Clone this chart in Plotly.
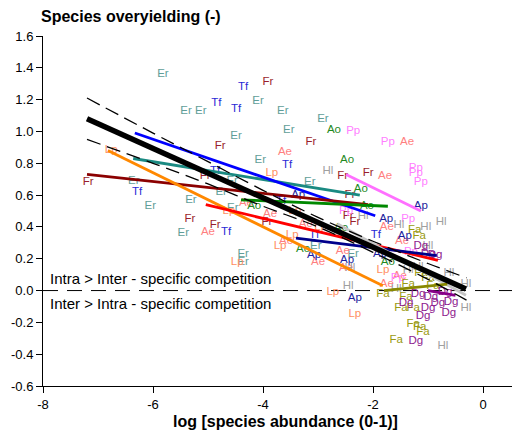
import plotly.graph_objects as go

# ---- label positions (x = log abundance, y = overyielding)
er_x = [-5.82, -5.40, -5.13, -4.09, -3.64, -3.53, -2.91, -4.49, -4.05, -6.35, -6.05, -5.31, -5.45, -4.76, -4.56, -4.36, -4.36, -3.15, -3.04, -2.36, -4.55]
er_y = [1.36, 1.13, 1.13, 1.19, 1.13, 1.01, 1.08, 0.97, 0.82, 0.69, 0.53, 0.57, 0.36, 0.62, 0.69, 0.23, 0.18, 0.68, 0.28, 0.23, 0.52]
tf_x = [-4.36, -4.85, -4.49, -4.87, -6.29, -3.56, -4.67, -3.67, -3.07, -1.95]
tf_y = [1.28, 1.18, 1.14, 0.75, 0.62, 0.79, 0.37, 0.56, 0.35, 0.35]
fr_x = [-7.18, -4.78, -5.05, -3.91, -3.13, -2.55, -2.09, -2.42, -5.33, -4.87, -3.93, -2.45, -2.33]
fr_y = [0.68, 0.91, 0.72, 1.31, 0.93, 0.72, 0.74, 0.60, 0.45, 0.41, 0.43, 0.47, 0.43]
lp_x = [-6.76, -3.84, -4.62, -4.47, -3.42, -3.69, -3.47, -2.95, -2.73, -2.33, -1.82]
lp_y = [0.88, 0.74, 0.50, 0.18, 0.50, 0.28, 0.35, 0.40, -0.01, -0.15, 0.13]
ae_x = [-1.38, -3.60, -1.78, -5.00, -4.31, -3.87, -3.22, -3.58, -3.00, -2.55, -2.49, -1.75, -1.47, -1.75, -1.51]
ae_y = [0.93, 0.87, 0.72, 0.37, 0.55, 0.48, 0.42, 0.31, 0.18, 0.25, 0.14, 0.40, 0.31, 0.04, 0.09]
ao_x = [-2.71, -2.47, -2.22, -2.11, -4.16, -3.27, -1.73, -2.58]
ao_y = [1.01, 0.82, 0.64, 0.53, 0.53, 0.26, 0.18, 0.39]
pp_x = [-2.36, -1.73, -1.22, -1.22, -1.13, -2.49, -1.36, -1.31, -1.55]
pp_y = [1.00, 0.93, 0.77, 0.74, 0.68, 0.50, 0.45, 0.24, 0.08]
ap_x = [-3.36, -1.76, -1.13, -1.42, -3.07, -2.47, -1.87, -2.33]
ap_y = [0.60, 0.45, 0.53, 0.34, 0.22, 0.19, 0.23, -0.05]
hl_x = [-2.82, -2.18, -0.76, -1.04, -1.53, -2.42, -2.45, -1.00, -0.62, -0.31, -0.31, -0.73, -1.36, -1.18, -1.58]
hl_y = [0.75, 0.47, 0.43, 0.40, 0.41, 0.14, 0.03, 0.28, 0.11, 0.04, -0.11, -0.35, 0.13, 0.15, 0.01]
fa_x = [-1.24, -1.16, -1.82, -1.40, -1.49, -1.27, -1.27, -1.15, -1.09, -1.58, -1.00, -1.13, -0.91, -1.36]
fa_y = [0.38, 0.34, -0.02, -0.04, -0.11, -0.11, -0.21, -0.23, -0.26, -0.31, 0.08, 0.11, 0.03, 0.04]
dg_x = [-1.13, -0.87, -1.00, -1.40, -1.09, -0.58, -0.62, -1.22, -0.95, -0.82, -0.69, -1.18, -1.00]
dg_y = [0.28, 0.22, 0.23, -0.08, -0.16, -0.07, -0.14, -0.32, -0.04, -0.08, -0.01, -0.02, -0.11]

species = ["Er", "Tf", "Fr", "Lp", "Ae", "Ao", "Pp", "Ap", "Hl", "Fa", "Dg"]
label_colors = ["#5f9e98", "#2a2ad6", "#9a1f2c", "#ff8f62", "#ff7f7f", "#1f8a1f",
                "#ff80ff", "#1c1c9c", "#a0a0a0", "#9a9a10", "#8e1a8e"]
line_colors = ["#1a8a82", "#0000ff", "#8b0000", "#ff8800", "#ff0000", "#008800",
               "#ff70ff", "#00008b", "#c4c4c4", "#888800", "#880088"]

# per-species regression lines (start / end)
line_x0 = [-6.36, -6.33, -7.20, -6.82, -5.04, -4.40, -2.49, -3.40, -2.65, -1.80, -1.00]
line_y0 = [0.83, 0.99, 0.73, 0.88, 0.54, 0.57, 0.73, 0.33, 0.42, 0.00, 0.00]
line_x1 = [-2.24, -1.96, -2.09, -1.82, -0.82, -1.73, -1.13, -0.84, -0.31, -0.65, -0.50]
line_y1 = [0.60, 0.47, 0.54, 0.03, 0.19, 0.53, 0.50, 0.22, -0.03, 0.04, -0.03]

# overall fit with confidence band
fit_x = [-7.2, -0.31]
fit_y = [1.08, 0.01]
band_x = [-7.2, -6.0, -5.0, -4.0, -3.0, -2.0, -1.0, -0.3]
band_upper = [1.21, 0.99, 0.81, 0.63, 0.46, 0.31, 0.17, 0.08]
band_lower = [0.95, 0.80, 0.67, 0.53, 0.40, 0.24, 0.07, -0.06]

label_x = [er_x, tf_x, fr_x, lp_x, ae_x, ao_x, pp_x, ap_x, hl_x, fa_x, dg_x]
label_y = [er_y, tf_y, fr_y, lp_y, ae_y, ao_y, pp_y, ap_y, hl_y, fa_y, dg_y]

x_ticks = [-8, -6, -4, -2, 0]
x_ticktext = ["-8", "-6", "-4", "-2", "0"]
y_ticks = [-0.6, -0.4, -0.2, 0.0, 0.2, 0.4, 0.6, 0.8, 1.0, 1.2, 1.4, 1.6]
y_ticktext = ["-0.6", "-0.4", "-0.2", "0.0", "0.2", "0.4", "0.6", "0.8", "1.0", "1.2", "1.4", "1.6"]

FONT = "Liberation Sans, Arial, Helvetica, sans-serif"

fig = go.Figure()

for sp, xs, ys, col in zip(species, label_x, label_y, label_colors):
    fig.add_trace(go.Scatter(x=xs, y=ys, mode="text", text=[sp] * len(xs),
                             textposition="middle center",
                             textfont=dict(family=FONT, size=11.5, color=col),
                             showlegend=False, hoverinfo="skip"))

for i, sp in enumerate(species):
    fig.add_trace(go.Scatter(x=[line_x0[i], line_x1[i]], y=[line_y0[i], line_y1[i]],
                             mode="lines", line=dict(color=line_colors[i], width=2.8),
                             showlegend=False, hoverinfo="skip"))

fig.add_trace(go.Scatter(x=band_x, y=band_upper, mode="lines",
                         line=dict(color="black", width=1.3, dash="14px,7px", shape="spline"),
                         showlegend=False, hoverinfo="skip"))
fig.add_trace(go.Scatter(x=band_x, y=band_lower, mode="lines",
                         line=dict(color="black", width=1.3, dash="14px,7px", shape="spline"),
                         showlegend=False, hoverinfo="skip"))
fig.add_trace(go.Scatter(x=fit_x, y=fit_y, mode="lines",
                         line=dict(color="black", width=5.5),
                         showlegend=False, hoverinfo="skip"))

fig.add_shape(type="line", xref="paper", yref="y", x0=0, x1=1, y0=0, y1=0,
              line=dict(color="black", width=1, dash="15px,9px"), layer="below")

fig.add_annotation(x=-7.91, y=0.075, xref="x", yref="y", xanchor="left", yanchor="middle",
                   text="Intra > Inter - specific competition", showarrow=False,
                   font=dict(family=FONT, size=15, color="black"))
fig.add_annotation(x=-7.91, y=-0.08, xref="x", yref="y", xanchor="left", yanchor="middle",
                   text="Inter > Intra - specific competition", showarrow=False,
                   font=dict(family=FONT, size=15, color="black"))

fig.add_annotation(x=0, y=1, xref="paper", yref="paper", xanchor="left", yanchor="middle",
                   yshift=20, xshift=-4,
                   text="<b>Species overyielding (-)</b>", showarrow=False,
                   font=dict(family=FONT, size=16, color="black"))
fig.add_annotation(x=0.5, y=0, xref="paper", yref="paper", xanchor="center", yanchor="middle",
                   yshift=-35,
                   text="<b>log [species abundance (0-1)]</b>", showarrow=False,
                   font=dict(family=FONT, size=16, color="black"))

fig.update_layout(
    width=520, height=432,
    margin=dict(l=35, r=0, t=28, b=54),
    plot_bgcolor="white", paper_bgcolor="white",
    xaxis=dict(range=[-8, 0.818], showgrid=False, zeroline=False, showline=True,
               linecolor="black", linewidth=1, ticks="outside", ticklen=6,
               tickcolor="black", tickvals=x_ticks, ticktext=x_ticktext,
               automargin=False,
               tickfont=dict(family=FONT, size=13, color="black")),
    yaxis=dict(range=[-0.6, 1.6], showgrid=False, zeroline=False, showline=True,
               linecolor="black", linewidth=1, ticks="outside", ticklen=6,
               tickcolor="black", tickvals=y_ticks, ticktext=y_ticktext,
               automargin=False,
               tickfont=dict(family=FONT, size=13, color="black")),
)

fig.write_html("out.html")
